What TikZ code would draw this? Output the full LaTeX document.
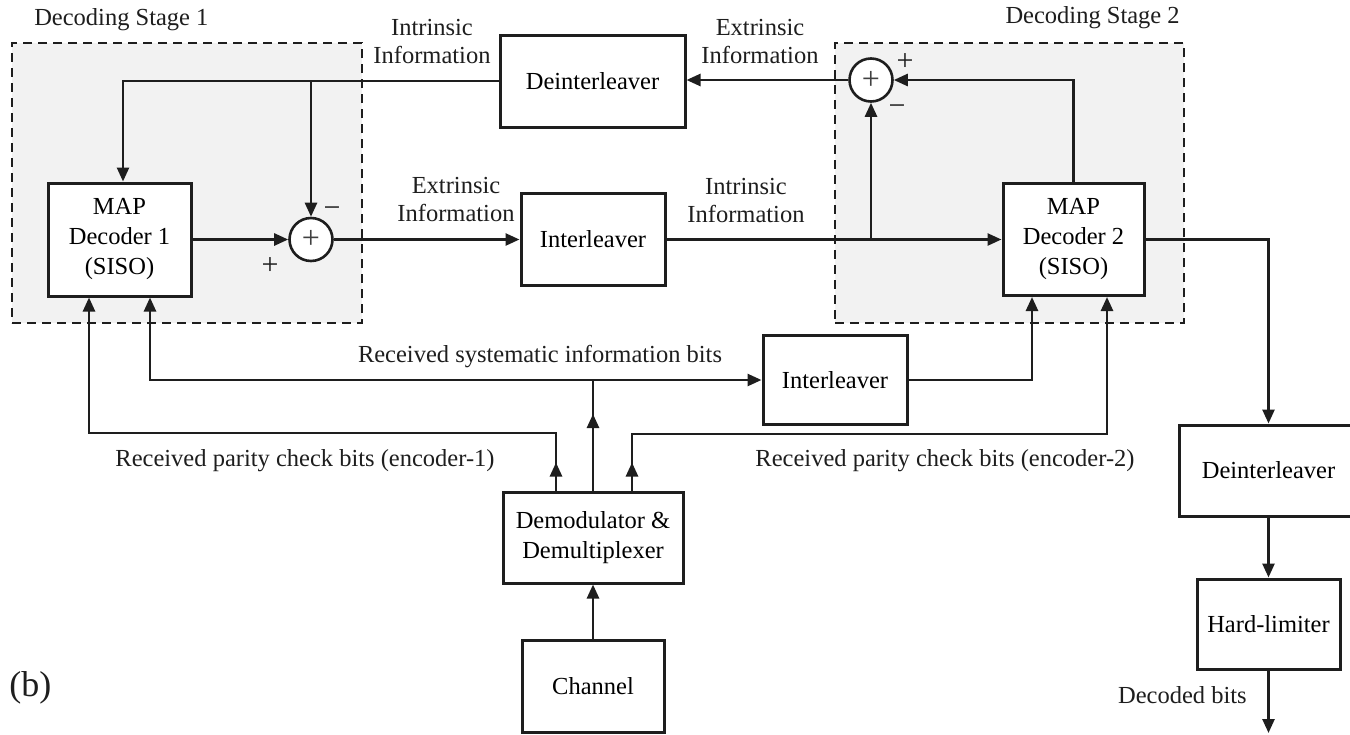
\documentclass[tikz,border=0pt]{standalone}
\usepackage{fontspec}
\setmainfont{Liberation Serif}
\usetikzlibrary{arrows.meta}
\definecolor{stagegray}{RGB}{242,242,242}
\definecolor{ink}{RGB}{30,30,30}
\begin{document}
\begin{tikzpicture}[x=1pt,y=-1pt,
  line width=2.6pt, draw=ink,
  blk/.style={draw=ink, fill=white, line width=3pt, inner sep=0pt, align=center, font=\fontsize{24.5}{30}\selectfont},
  sumc/.style={draw=ink, circle, fill=white, minimum size=43pt, inner sep=0pt, line width=2.6pt, font=\fontsize{32}{32}\selectfont, text=ink!85},
  arr/.style={-{Triangle[length=14pt,width=12pt]}},
  lbl/.style={align=center, font=\fontsize{24.5}{28}\selectfont, inner sep=0pt, text=ink},
  sgn/.style={font=\fontsize{30}{30}\selectfont, inner sep=0pt, text=ink},
  stagebox/.style={draw=ink, fill=stagegray, line width=2.6pt, dash pattern=on 9pt off 6pt, inner sep=0pt}
]
\clip (0,0) rectangle (1350,734);
\fill[white] (0,0) rectangle (1350,734);

% stage boxes
\node[stagebox, minimum width=350pt, minimum height=280pt] (st1) at (187,183) {};
\node[stagebox, minimum width=349pt, minimum height=280pt] (st2) at (1009.5,183) {};
\node[lbl, anchor=west] (st1lbl) at (33,20) {Decoding Stage 1};
\node[lbl, anchor=east] (st2lbl) at (1181,18) {Decoding Stage 2};

% blocks
\node[blk, minimum width=143pt, minimum height=113pt] (map1) at (119.5,239.5) {MAP\\Decoder 1\\(SISO)};
\node[sumc] (sum1) at (311,239.5) {+};
\node[blk, minimum width=185pt, minimum height=92pt] (deint1) at (592.5,81) {Deinterleaver};
\node[blk, minimum width=144pt, minimum height=92pt] (int1) at (593,239.5) {Interleaver};
\node[sumc] (sum2) at (871,80) {+};
\node[blk, minimum width=141pt, minimum height=112pt] (map2) at (1073.5,239.5) {MAP\\Decoder 2\\(SISO)};
\node[blk, minimum width=144pt, minimum height=89pt] (int2) at (835,380) {Interleaver};
\node[blk, minimum width=180pt, minimum height=91pt] (demod) at (593,537.5) {Demodulator \&\\Demultiplexer};
\node[blk, minimum width=142pt, minimum height=92pt] (chan) at (593,686) {Channel};
\node[blk, minimum width=178pt, minimum height=91pt] (deint2) at (1268.5,470.5) {Deinterleaver};
\node[blk, minimum width=143pt, minimum height=90pt] (hard) at (1268.5,624) {Hard-limiter};

% signs
\node[sgn] (m1) at (332,212) {−};
\node[sgn] (p1s) at (270,266) {+};
\node[sgn] (p2s) at (905,62) {+};
\node[sgn] (m2) at (897,110) {−};

% labels
\node[lbl] (l1) at (432,42) {Intrinsic\\Information};
\node[lbl] (l2) at (760,42) {Extrinsic\\Information};
\node[lbl] (l3) at (456,200) {Extrinsic\\Information};
\node[lbl] (l4) at (746,201) {Intrinsic\\Information};
\node[lbl] (l5) at (540,357) {Received systematic information bits};
\node[lbl] (l6) at (305,461) {Received parity check bits (encoder-1)};
\node[lbl] (l7) at (945,461) {Received parity check bits (encoder-2)};
\node[lbl, anchor=east] (l8) at (1248,695) {Decoded bits};
\node[lbl, anchor=west, font=\fontsize{36}{36}\selectfont] (b) at (8,688) {(b)};

% top loop
\coordinate (j1) at (sum1.north |- deint1.west);
\draw[arr] (deint1.west) -| ([xshift=3.5pt]map1.north);
\draw[arr] (j1) -- (sum1.north);
\draw[arr] (map1.east |- sum1.west) -- (sum1.west);
\draw[arr] (sum1.east) -- (int1.west);
\coordinate (j2) at (sum2.south |- int1.east);
\draw[arr] (int1.east) -- (map2.west);
\draw[arr] (j2) -- (sum2.south);
\draw[arr] (map2.north) |- (sum2.east);
\draw[arr] (sum2.west) -- (deint1.east |- sum2.west);

% output chain
\draw[arr] (map2.east) -| (deint2.north);
\draw[arr] (deint2.south) -- (hard.north);
\coordinate (out) at (1268.5,733);
\draw[arr] (hard.south) -- (out);

% bottom inputs
\coordinate (pa) at (556,433);
\coordinate (pb) at (632,434);
\coordinate (sy) at (593,380);
\draw[arr] (chan.north) -- (demod.south);
\draw[arr] (demod.north -| pa) -- ++(0,-28);
\draw[arr] (demod.north -| pa) ++(0,-26) -- (pa) -| ([xshift=-30.5pt]map1.south);
\draw[arr] (demod.north -| pb) -- ++(0,-28);
\draw[arr] (demod.north -| pb) ++(0,-26) -- (pb) -| ([xshift=33.5pt]map2.south);
\draw[arr] (demod.north -| sy) -- (593,414);
\draw (593,416) -- (sy);
\draw[arr] (sy) -| ([xshift=30.5pt]map1.south);
\draw[arr] (sy) -- (int2.west);
\draw[arr] (int2.east) -| ([xshift=-41.5pt]map2.south);
\end{tikzpicture}
\end{document}
